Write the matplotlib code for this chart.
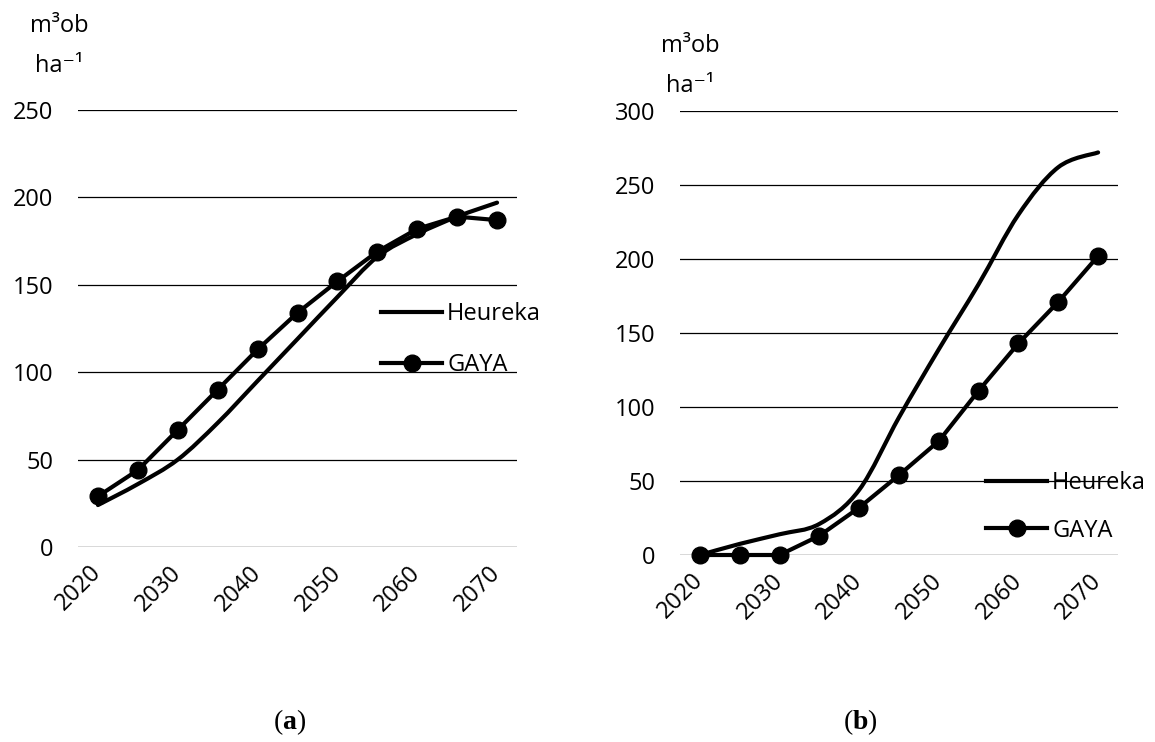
import matplotlib
matplotlib.use("Agg")
import matplotlib.pyplot as plt
from matplotlib.lines import Line2D
from matplotlib.patches import PathPatch
from matplotlib.path import Path

# values (m3ob ha-1, every 5 years)
years = [2020, 2025, 2030, 2035, 2040, 2045, 2050, 2055, 2060, 2065, 2070]
tick_years = ["2020", "2030", "2040", "2050", "2060", "2070"]

heureka_a = [24, 36, 50, 71, 95, 119, 143, 166, 179, 189, 197]
gaya_a = [29, 44, 67, 90, 113, 134, 152, 169, 182, 189, 187]

heureka_b = [0, 7.5, 14, 21, 44, 93, 139, 183, 230, 262, 272]
gaya_b = [0, 0, 0, 13, 32, 54, 77, 111, 143, 171, 202]

series_names = ["Heureka", "GAYA"]

plt.rcParams["font.family"] = ["Open Sans", "DejaVu Sans"]
plt.rcParams["mathtext.fontset"] = "custom"
plt.rcParams["mathtext.rm"] = "Liberation Serif"
plt.rcParams["mathtext.bf"] = "Liberation Serif:bold"

FS = 17
LW = 3.0
W, H = 1155, 742


def smooth_path(x, y):
    """Excel-style smoothed line: cubic Bezier through every point."""
    pts = list(zip(x, y))
    n = len(pts)
    verts = [pts[0]]
    codes = [Path.MOVETO]
    for i in range(n - 1):
        p0 = pts[i - 1] if i > 0 else pts[i]
        p1, p2 = pts[i], pts[i + 1]
        p3 = pts[i + 2] if i + 2 < n else pts[i + 1]
        c1 = (p1[0] + (p2[0] - p0[0]) / 6, p1[1] + (p2[1] - p0[1]) / 6)
        c2 = (p2[0] - (p3[0] - p1[0]) / 6, p2[1] - (p3[1] - p1[1]) / 6)
        verts += [c1, c2, p2]
        codes += [Path.CURVE4] * 3
    return Path(verts, codes)


def draw_panel(ax, heureka, gaya, ymax, legend_xy, spacing, title_x, title_y,
               caption, cap_x):
    xs = list(range(len(years)))
    ax.set_xlim(-0.5, len(years) - 0.5)
    ax.set_ylim(0, ymax)
    ax.set_yticks(range(0, ymax + 1, 50))
    ax.set_xticks(xs[::2])
    ax.set_xticklabels(tick_years, rotation=45, ha="right", va="center",
                       rotation_mode="anchor")
    ax.tick_params(length=0, labelsize=FS)
    ax.tick_params(axis="y", pad=18)
    ax.tick_params(axis="x", pad=16)
    for s in ax.spines.values():
        s.set_visible(False)
    ax.set_axisbelow(True)
    ax.grid(axis="y", color="black", lw=0.9)
    ax.axhline(0, color="#d9d9d9", lw=2, zorder=1)

    ax.add_patch(PathPatch(smooth_path(xs, heureka), fill=False, lw=LW,
                           edgecolor="black", capstyle="round", zorder=3,
                           clip_on=False))
    ax.plot(xs, gaya, color="black", lw=LW, marker="o", ms=12, zorder=4,
            clip_on=False)

    handles = [Line2D([], [], color="black", lw=LW),
               Line2D([], [], color="black", lw=LW, marker="o", ms=12)]
    fig.legend(handles, series_names, loc="upper left",
               bbox_to_anchor=(legend_xy[0] / W, 1 - legend_xy[1] / H),
               frameon=False, fontsize=FS, borderpad=0, borderaxespad=0,
               handlelength=2.6, handletextpad=0.2, labelspacing=spacing)

    fig.text(title_x / W, 1 - title_y[0] / H, "m³ob", ha="center",
             va="baseline", fontsize=FS)
    fig.text(title_x / W, 1 - title_y[1] / H, "ha⁻¹", ha="center",
             va="baseline", fontsize=FS)
    fig.text(cap_x / W, 1 - 722 / H, caption, ha="center", va="center",
             fontsize=20)


fig = plt.figure(figsize=(W / 100, H / 100), dpi=100)
ax_a = fig.add_axes([78 / W, 1 - 547 / H, (517 - 78) / W, (547 - 110) / H])
ax_b = fig.add_axes([680 / W, 1 - 555 / H, (1118 - 680) / W, (555 - 111) / H])

draw_panel(ax_a, heureka_a, gaya_a, 250, (381, 302), 1.15, 59, (32, 72),
           r"$\mathrm{(}\mathbf{a}\mathrm{)}$", 290)
draw_panel(ax_b, heureka_b, gaya_b, 300, (986, 471), 1.0, 690, (52, 92),
           r"$\mathrm{(}\mathbf{b}\mathrm{)}$", 860)

fig.savefig("out.png", dpi=100)
